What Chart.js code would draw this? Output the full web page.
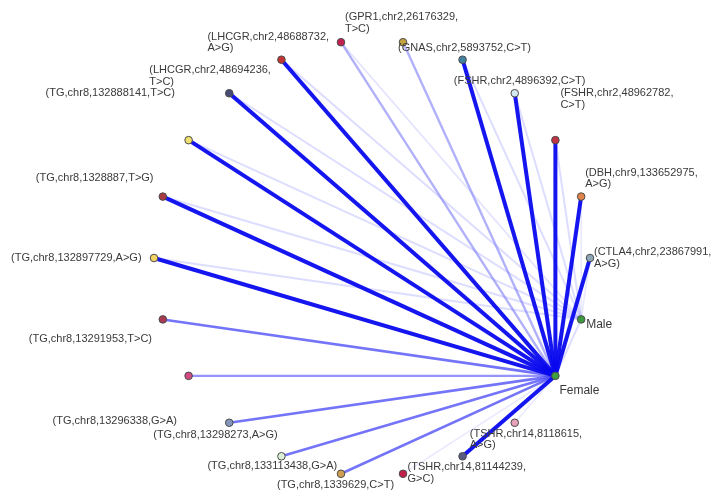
<!DOCTYPE html>
<html>
<head>
<meta charset="utf-8">
<script src="https://cdn.jsdelivr.net/npm/chart.js@4.4.1/dist/chart.umd.min.js"></script>
<style>
  html, body { margin: 0; padding: 0; background: #ffffff; }
  #c { display: block; }
</style>
</head>
<body>
<canvas id="c" width="724" height="492"></canvas>
<script>
// Nodes in circular layout order (index k -> angle k * 360/22, clockwise from the right)
const nodeNames = [
  "CTLA4_23867991", "Male", "Female", "TSHR_8118615", "TSHR_81144239", "node_5",
  "TG_1339629", "TG_133113438", "TG_13298273", "TG_13296338", "TG_13291953",
  "TG_132897729", "TG_1328887", "TG_132888141", "LHCGR_48694236", "LHCGR_48688732",
  "GPR1_26176329", "GNAS_5893752", "node_18", "FSHR_4896392", "FSHR_48962782", "DBH_133652975"
];
const nodeLabels = [
  ["(CTLA4,chr2,23867991,", "A>G)"], ["Male"], ["Female"],
  ["(TSHR,chr14,8118615,", "A>G)"], ["(TSHR,chr14,81144239,", "G>C)"], null,
  ["(TG,chr8,1339629,C>T)"], ["(TG,chr8,133113438,G>A)"], ["(TG,chr8,13298273,A>G)"],
  ["(TG,chr8,13296338,G>A)"], ["(TG,chr8,13291953,T>C)"], ["(TG,chr8,132897729,A>G)"],
  ["(TG,chr8,1328887,T>G)"], ["(TG,chr8,132888141,T>C)"], ["(LHCGR,chr2,48694236,", "T>C)"],
  ["(LHCGR,chr2,48688732,", "A>G)"], ["(GPR1,chr2,26176329,", "T>C)"], ["(GNAS,chr2,5893752,C>T)"],
  null, ["(FSHR,chr2,4896392,C>T)"], ["(FSHR,chr2,48962782,", "C>T)"], ["(DBH,chr9,133652975,", "A>G)"]
];
const nodeColors = [
  "#8fa6b6", "#3e9a3e", "#3ea03e", "#e6a2b8", "#5a5a82", "#c22048",
  "#cf9e52", "#dcefd8", "#8594ba", "#d24a82", "#a83a52", "#f2d262",
  "#a83a44", "#f0e070", "#464c74", "#c23434", "#c22050", "#c4a23e",
  "#4482a2", "#d4e8f0", "#c23444", "#e2844a"
];
// Edge weights from Female and from Male to each node (0 = no edge)
const femaleWeights = [3, 1, 0, 0.5, 3, 0.5, 2, 2, 2, 1.8, 2, 3, 3, 3, 3, 3, 1.2, 1.2, 3, 3, 3, 3];
const maleWeights   = [0.6, 0, 0, 0, 0, 0, 0, 0, 0, 0, 0, 1, 1, 1, 1, 1, 0.8, 0, 1, 1, 1, 0.6];

// label placement (pixel offsets from node), layout only
const labelOffsets = [
  [4, -6], [5, 5], [4, 15], [-45, 11], [-55, 11], null,
  [-64, 11], [-74, 10], [-76, 12], [-136, 45], [-134, 20], [-143, 0],
  [-127, -19], [-143, -47], [-80, -23], [-74, -23], [4, -25], [-5, 6],
  null, [-61, -12], [5, -47], [4, -24]
];

const N = nodeNames.length;
const pos = nodeNames.map((_, k) => {
  const a = k * 2 * Math.PI / N;
  return { x: Math.cos(a), y: -Math.sin(a) };
});

function edgeStyle(w) {
  if (w >= 3) return { c: "rgba(8,8,238,0.95)", w: 4 };
  if (w >= 2) return { c: "rgba(70,70,245,0.75)", w: 2.6 };
  if (w >= 1.5) return { c: "rgba(90,90,248,0.65)", w: 2.2 };
  if (w >= 1.1) return { c: "rgba(100,100,245,0.5)", w: 2.4 };
  if (w >= 1) return { c: "rgba(120,120,255,0.25)", w: 2 };
  if (w >= 0.8) return { c: "rgba(130,130,255,0.22)", w: 1.8 };
  return { c: "rgba(140,140,255,0.2)", w: 1.5 };
}

const datasets = [];
function addEdges(src, weights) {
  weights.forEach((w, k) => {
    if (!w || k === src) return;
    const s = edgeStyle(w);
    datasets.push({
      type: 'line',
      data: [pos[src], pos[k]],
      borderColor: s.c,
      borderWidth: s.w,
      pointRadius: 0,
      showLine: true,
      fill: false,
      order: w >= 3 ? 2 : 3
    });
  });
}
addEdges(1, maleWeights);
addEdges(2, femaleWeights);

datasets.push({
  type: 'scatter',
  data: pos,
  pointRadius: 3.8,
  pointBackgroundColor: nodeColors,
  pointBorderColor: "#4a4a4a",
  pointBorderWidth: 1,
  order: 0
});

const R = 218, CX = 372, CY = 258, W = 724, H = 492;

const labelPlugin = {
  id: 'nodeLabels',
  afterDatasetsDraw(chart) {
    const ctx = chart.ctx;
    const xs = chart.scales.x, ys = chart.scales.y;
    ctx.save();
    ctx.fillStyle = "#3a3a3a";
    ctx.textBaseline = "middle";
    ctx.textAlign = "left";
    nodeLabels.forEach((lines, k) => {
      if (!lines || !labelOffsets[k]) return;
      const px = xs.getPixelForValue(pos[k].x);
      const py = ys.getPixelForValue(pos[k].y);
      const big = (k === 1 || k === 2);
      ctx.font = (big ? "12px" : "11px") + " 'Liberation Sans', Arial, sans-serif";
      lines.forEach((t, i) => {
        ctx.fillText(t, px + labelOffsets[k][0], py + labelOffsets[k][1] + i * 11.5);
      });
    });
    ctx.restore();
  }
};

new Chart(document.getElementById('c'), {
  data: { datasets },
  options: {
    responsive: false,
    animation: false,
    layout: { padding: 0, autoPadding: false },
    plugins: { legend: { display: false }, tooltip: { enabled: false } },
    scales: {
      x: { type: 'linear', display: false, min: -CX / R, max: (W - CX) / R },
      y: { type: 'linear', display: false, min: -(H - CY) / R, max: CY / R }
    }
  },
  plugins: [labelPlugin]
});
</script>
</body>
</html>
